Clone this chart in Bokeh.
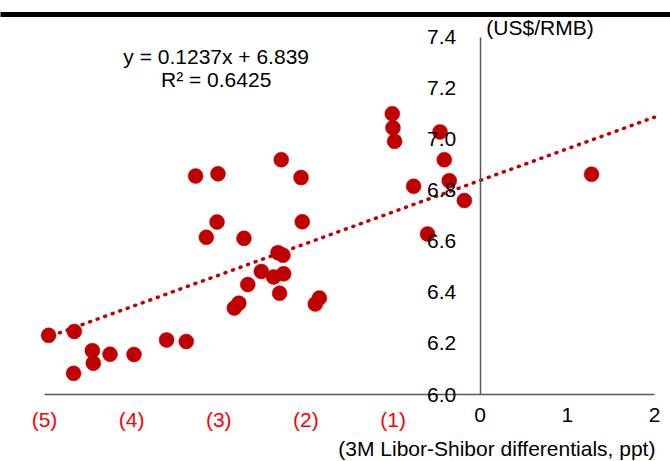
from bokeh.plotting import figure
from bokeh.models import LinearAxis, FixedTicker, Label, ColumnDataSource
from bokeh.embed import file_html
from bokeh.resources import INLINE

# Libor-Shibor differential (ppt) vs USD/RMB
spread = [-4.953, -4.658, -4.451, -4.440, -4.666, -4.248, -3.973, -3.599, -3.373,
          -3.266, -3.009, -3.020, -3.143, -2.711, -2.283, -2.056, -2.042, -2.320,
          -2.263, -2.512, -2.371, -2.256, -2.667, -2.770, -2.822, -2.302, -1.846,
          -1.892, -1.009, -1.001, -0.982, -0.461, -0.412, -0.355, -0.764, -0.182,
          -0.604, 1.278]
usdrmb = [6.232, 6.247, 6.172, 6.123, 6.083, 6.158, 6.157, 6.214, 6.208,
          6.856, 6.865, 6.676, 6.616, 6.612, 6.920, 6.850, 6.677, 6.556,
          6.546, 6.482, 6.461, 6.473, 6.431, 6.358, 6.339, 6.397, 6.378,
          6.355, 7.100, 7.045, 6.992, 7.029, 6.920, 6.838, 6.816, 6.760,
          6.629, 6.863]

trend_slope = 0.1237
trend_intercept = 6.839
trend_x = [-5, 2]
trend_y = [trend_slope * v + trend_intercept for v in trend_x]

x_neg_ticks = [-5, -4, -3, -2, -1]
x_neg_labels = ["(5)", "(4)", "(3)", "(2)", "(1)"]
x_pos_ticks = [0, 1, 2]
x_pos_labels = ["0", "1", "2"]
y_ticks = [6.0, 6.2, 6.4, 6.6, 6.8, 7.0, 7.2, 7.4]
y_labels = ["6.0", "6.2", "6.4", "6.6", "6.8", "7.0", "7.2", "7.4"]

eq_text = "y = 0.1237x + 6.839"
r2_text = "R\u00b2 = 0.6425"
y_unit = "(US$/RMB)"
x_title = "(3M Libor-Shibor differentials, ppt)"

FONT = "Liberation Sans"
RED = "#C00000"
GREY = "#595959"

p = figure(width=670, height=461, output_backend="svg", toolbar_location=None,
           x_range=(-5.505, 2.184), y_range=(5.7377, 7.4889),
           x_axis_location=None, y_axis_location=None,
           min_border_left=0, min_border_right=0,
           min_border_top=14, min_border_bottom=0)
p.outline_line_color = None
p.background_fill_color = "white"
p.border_fill_color = "white"
p.grid.grid_line_color = None
p.grid.visible = False

common = dict(major_label_text_font=FONT, major_label_text_font_size="21px",
              major_tick_out=0, major_tick_in=0, minor_tick_out=0, minor_tick_in=0)

# x axis at y = 6.0 (negative ticks, red labels)
xa = LinearAxis(fixed_location=6.0, ticker=FixedTicker(ticks=x_neg_ticks),
                major_label_overrides=dict(zip(x_neg_ticks, x_neg_labels)),
                major_label_text_color="#FF0000", major_label_standoff=13,
                axis_line_color=GREY, axis_line_width=1.5, bounds=(-5, 2), **common)
p.add_layout(xa, "below")

# x axis at y = 6.0 (non-negative ticks, black labels)
xb = LinearAxis(fixed_location=6.0, ticker=FixedTicker(ticks=x_pos_ticks),
                major_label_overrides=dict(zip(x_pos_ticks, x_pos_labels)),
                major_label_text_color="black", major_label_standoff=13,
                axis_line_color=None, **common)
p.add_layout(xb, "below")

# y axis crossing at x = 0
ya = LinearAxis(fixed_location=0, ticker=FixedTicker(ticks=y_ticks),
                major_label_overrides=dict(zip(y_ticks, y_labels)),
                major_label_text_color="black", major_label_standoff=24,
                axis_line_color=GREY, axis_line_width=1.5, bounds=(6.0, 7.4), **common)
p.add_layout(ya, "left")

# thick black rule at top
top = LinearAxis(ticker=FixedTicker(ticks=[]), axis_line_color="black", axis_line_width=5,
                 major_tick_out=0, major_tick_in=0, minor_tick_out=0, minor_tick_in=0,
                 major_label_text_font_size="0px")
p.add_layout(top, "above")

# trend line
p.line(trend_x, trend_y, line_color=RED, line_width=3.5, line_dash="1 7", line_cap="round")

# data points
src = ColumnDataSource(dict(x=spread, y=usdrmb))
p.scatter("x", "y", source=src, size=15, fill_color=RED, line_color=RED, line_width=0.5)

p.add_layout(Label(x=-3.03, y=7.323, text=eq_text, text_align="center", text_baseline="middle",
                   text_font=FONT, text_font_size="21px", text_color="black"))
p.add_layout(Label(x=-3.03, y=7.233, text=r2_text, text_align="center", text_baseline="middle",
                   text_font=FONT, text_font_size="21px", text_color="black"))
p.add_layout(Label(x=0.07, y=7.438, text=y_unit, text_align="left", text_baseline="middle",
                   text_font=FONT, text_font_size="21px", text_color="black"))
p.add_layout(Label(x=2.011, y=5.789, text=x_title, text_align="right", text_baseline="middle",
                   text_font=FONT, text_font_size="21px", text_color="black"))

open("out.html", "w").write(file_html(p, INLINE))
